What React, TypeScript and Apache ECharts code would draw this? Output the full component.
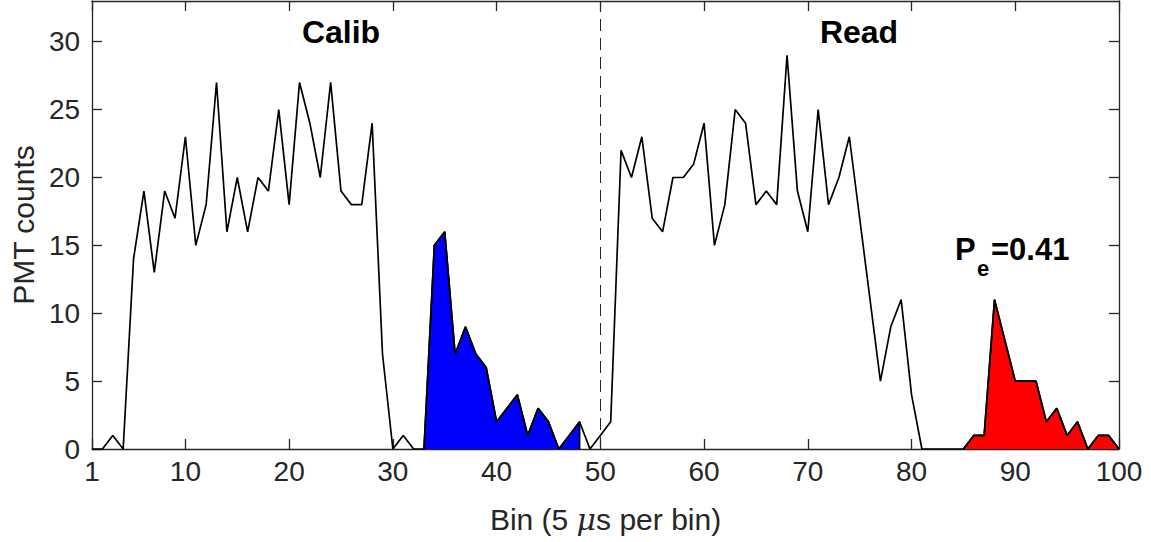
import React, { useEffect, useRef } from "react";
import * as echarts from "echarts";

// PMT counts for bins 1..100
const counts = [
  0, 0, 1, 0, 14, 19, 13, 19, 17, 23,
  15, 18, 27, 16, 20, 16, 20, 19, 25, 18,
  27, 24, 20, 27, 19, 18, 18, 24, 7, 0,
  1, 0, 0, 15, 16, 7, 9, 7, 6, 2,
  3, 4, 1, 3, 2, 0, 1, 2, 0, 1,
  2, 22, 20, 23, 17, 16, 20, 20, 21, 24,
  15, 18, 25, 24, 18, 19, 18, 29, 19, 16,
  25, 18, 20, 23, 17, 11, 5, 9, 11, 4,
  0, 0, 0, 0, 0, 1, 1, 11, 8, 5,
  5, 5, 2, 3, 1, 2, 0, 1, 1, 0,
];
const xTicks = [1, 10, 20, 30, 40, 50, 60, 70, 80, 90, 100];
const yTicks = [0, 5, 10, 15, 20, 25, 30];
const calibRange = [33, 48];
const readRange = [85, 100];
const dividerBin = 50;
const calibLabel = "Calib";
const readLabel = "Read";
const peLabel = ["P", "e", "=0.41"];

const TXT = "#262626";
const FONT = "Liberation Sans, Arial, Helvetica, sans-serif";

export default function App() {
  const ref = useRef<HTMLDivElement>(null);
  useEffect(() => {
    const chart = echarts.init(ref.current!, null, { renderer: "svg" });
    const pts = counts.map((v, i) => [i + 1, v]);
    const fill = (r: number[]) => {
      const d = pts.filter((p) => p[0] >= r[0] && p[0] <= r[1]);
      d.push([r[1], 0]);
      return d;
    };
    const axisLine = { show: true, onZero: false, lineStyle: { color: TXT, width: 1.3 } };
    const tick = (vals: number[]) => ({
      show: true,
      inside: true,
      length: 10,
      customValues: vals,
      lineStyle: { color: TXT, width: 1.3 },
    });
    chart.setOption({
      animation: false,
      backgroundColor: "#ffffff",
      grid: { left: 92, right: 32, top: 1, bottom: 93 },
      xAxis: [
        {
          type: "value",
          min: 1,
          max: 100,
          position: "bottom",
          axisLine,
          axisTick: tick(xTicks),
          axisLabel: { customValues: xTicks, color: TXT, fontSize: 28, fontFamily: FONT, margin: 8 },
          splitLine: { show: false },
          name: "Bin (5 {i|μ}s per bin)",
          nameLocation: "middle",
          nameGap: 55,
          nameTextStyle: {
            color: TXT,
            fontSize: 30,
            fontFamily: FONT,
            rich: { i: { fontStyle: "italic", fontSize: 30, color: TXT, fontFamily: "DejaVu Serif" } },
          },
        },
        {
          type: "value",
          min: 1,
          max: 100,
          position: "top",
          axisLine,
          axisTick: tick(xTicks),
          axisLabel: { show: false },
          splitLine: { show: false },
        },
      ],
      yAxis: [
        {
          type: "value",
          min: 0,
          max: 33,
          position: "left",
          axisLine,
          axisTick: tick(yTicks),
          axisLabel: { customValues: yTicks, color: TXT, fontSize: 28, fontFamily: FONT, margin: 12 },
          splitLine: { show: false },
          name: "PMT counts",
          nameLocation: "middle",
          nameGap: 50,
          nameTextStyle: { color: TXT, fontSize: 30, fontFamily: FONT },
        },
        {
          type: "value",
          min: 0,
          max: 33,
          position: "right",
          axisLine,
          axisTick: tick(yTicks),
          axisLabel: { show: false },
          splitLine: { show: false },
        },
      ],
      series: [
        {
          type: "line",
          data: fill(calibRange),
          symbol: "none",
          lineStyle: { color: "#000", width: 1.7 },
          areaStyle: { color: "#0000ff", opacity: 1 },
          z: 2,
        },
        {
          type: "line",
          data: fill(readRange),
          symbol: "none",
          lineStyle: { color: "#000", width: 1.7 },
          areaStyle: { color: "#ff0000", opacity: 1 },
          z: 2,
        },
        {
          type: "line",
          data: pts,
          symbol: "none",
          lineStyle: { color: "#000", width: 1.7 },
          z: 3,
          markLine: {
            silent: true,
            symbol: "none",
            label: { show: false },
            lineStyle: { color: TXT, type: [12, 7], width: 1 },
            data: [{ xAxis: dividerBin }],
          },
        },
      ],
      graphic: [
        {
          type: "text",
          x: 341,
          y: 32,
          style: { text: calibLabel, fill: "#000", font: `bold 32px ${FONT}`, textAlign: "center", textVerticalAlign: "middle" },
        },
        {
          type: "text",
          x: 859,
          y: 32,
          style: { text: readLabel, fill: "#000", font: `bold 32px ${FONT}`, textAlign: "center", textVerticalAlign: "middle" },
        },
        {
          type: "text",
          x: 955,
          y: 249,
          style: { text: peLabel[0], fill: "#000", font: `bold 31px ${FONT}`, textAlign: "left", textVerticalAlign: "middle" },
        },
        {
          type: "text",
          x: 977,
          y: 268,
          style: { text: peLabel[1], fill: "#000", font: `bold 22px ${FONT}`, textAlign: "left", textVerticalAlign: "middle" },
        },
        {
          type: "text",
          x: 991,
          y: 249,
          style: { text: peLabel[2], fill: "#000", font: `bold 31px ${FONT}`, textAlign: "left", textVerticalAlign: "middle" },
        },
      ],
    });
    return () => chart.dispose();
  }, []);
  return <div ref={ref} style={{ position: "fixed", left: 0, top: 0, width: 1151, height: 542 }} />;
}
